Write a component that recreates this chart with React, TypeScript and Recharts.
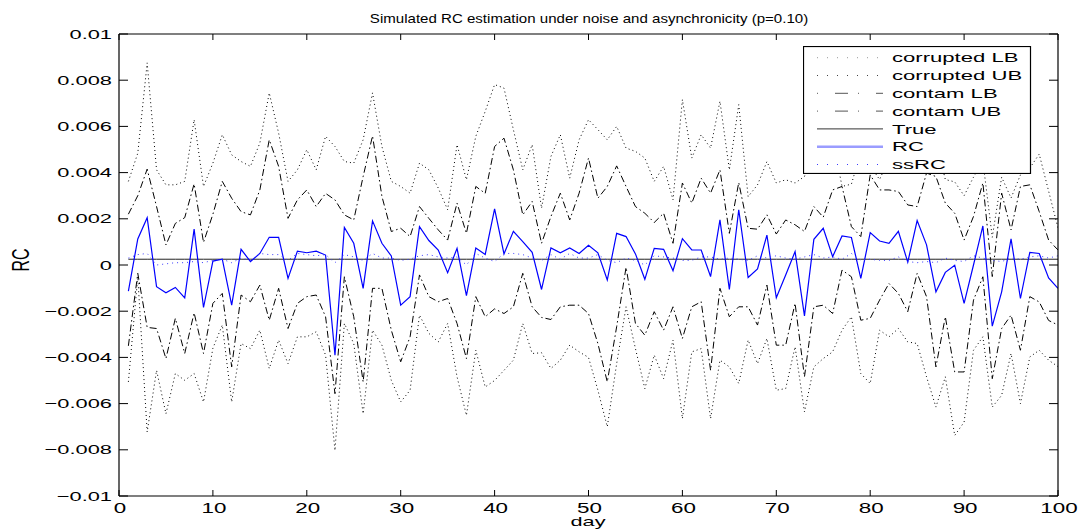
import React from 'react';
import { LineChart, Line, XAxis, YAxis, Legend } from 'recharts';

// x categories (days)
const DAYS = Array.from({ length: 100 }, (_, i) => i + 1);

// all series values below are read in units of 0.001
const RC = [
  -1.13, 1.13, 2.05, -0.94, -1.2, -0.97, -1.42, 1.55, -1.84, 0.17,
  0.25, -1.74, 0.68, 0.15, 0.5, 1.2, 1.2, -0.58, 0.6, 0.53,
  0.6, 0.43, -3.9, 1.63, 0.94, -1.01, 1.91, 0.94, 0.39, -1.74,
  -1.37, 1.66, 1.06, 0.65, -0.33, 0.72, -1.33, 0.74, 0.46, 2.43,
  0.48, 1.46, 1.01, 0.55, -1.06, 0.74, 0.53, 0.74, 0.5, 0.85,
  0.53, -0.65, 1.37, 1.23, 0.48, -0.62, 0.72, 0.68, -0.25, 1.14,
  0.65, 0.65, -0.5, 1.95, -1.06, 2.39, -0.54, -0.17, 1.29, -1.42,
  -0.43, 0.58, -2.2, 1.11, 1.59, 0.36, 1.26, 1.19, -0.58, 1.4,
  1.04, 0.94, 1.46, 0.12, 1.92, 0.87, -1.16, -0.32, -0.01, -1.66,
  0.0, 1.69, -2.65, -1.16, 1.13, -1.45, 0.55, 0.5, -0.56, -1.01,
];

const SS_RC = [
  0.3, 0.45, 0.5, 0.0, 0.05, 0.1, 0.1, 0.15, 0.1, 0.2,
  0.25, 0.1, 0.3, 0.2, 0.5, 0.45, 0.45, 0.2, 0.5, 0.45,
  0.4, 0.45, 0.1, 0.45, 0.35, 0.2, 0.5, 0.3, 0.3, 0.2,
  0.25, 0.4, 0.45, 0.35, 0.3, 0.35, 0.0, 0.5, 0.3, 0.15,
  0.5, 0.5, 0.45, 0.3, 0.2, 0.45, 0.25, 0.5, 0.3, 0.3,
  0.45, 0.2, 0.1, 0.3, 0.2, 0.0, 0.4, 0.35, 0.3, 0.2,
  0.2, 0.35, 0.35, 0.25, 0.3, 0.25, 0.2, 0.4, 0.3, 0.4,
  0.3, 0.25, 0.35, 0.45, 0.3, 0.35, 0.25, 0.5, 0.2, 0.25,
  0.2, 0.2, 0.35, 0.15, 0.1, 0.15, 0.1, 0.3, 0.2, 0.15,
  0.4, 0.3, 0.2, 0.15, 0.3, 0.25, 0.35, 0.4, 0.3, 0.4,
];

const CONTAM_UB = [
  2.2, 3.0, 4.15, 2.53, 0.87, 1.8, 2.05, 3.51, 0.98, 2.2,
  3.62, 2.89, 2.31, 2.17, 3.25, 5.42, 4.27, 2.02, 2.82, 3.25,
  2.53, 3.1, 2.82, 2.17, 1.95, 3.83, 5.59, 2.97, 1.45, 1.59,
  1.23, 2.53, 2.02, 1.52, 1.08, 2.68, 1.37, 3.4, 3.1, 5.13,
  5.49, 4.12, 2.17, 2.75, 0.94, 2.1, 3.11, 1.95, 3.11, 4.63,
  2.89, 3.4, 4.29, 3.4, 2.53, 2.24, 1.84, 2.24, 0.94, 3.55,
  2.68, 3.76, 3.11, 4.12, 1.37, 3.57, 1.59, 1.55, 2.17, 1.34,
  1.95, 1.74, 1.45, 2.53, 2.07, 3.25, 3.4, 1.66, 1.23, 3.9,
  3.25, 3.25, 3.18, 2.6, 2.53, 3.98, 3.83, 2.68, 2.24, 1.08,
  2.1, 3.55, -0.5, 3.11, 1.52, 3.4, 3.47, 2.31, 1.08, 0.65,
];

const CONTAM_LB = [
  -3.5, -0.36, -2.7, -2.75, -4.05, -2.31, -3.83, -2.07, -3.83, -1.66,
  -1.23, -4.41, -1.3, -1.59, -0.87, -2.39, -1.01, -2.75, -1.66, -1.37,
  -1.3, -2.24, -5.57, -0.51, -2.24, -5.06, -1.01, -1.01, -2.82, -4.19,
  -3.11, -0.43, -1.37, -1.59, -1.45, -2.53, -4.05, -1.37, -2.24, -1.9,
  -2.1, -1.81, -0.36, -1.81, -2.27, -2.36, -1.81, -1.74, -1.74, -2.1,
  -3.4, -5.06, -2.67, -0.1, -2.53, -3.04, -2.02, -2.82, -1.81, -3.18,
  -1.81, -1.59, -4.56, -1.01, -2.24, -1.81, -1.81, -2.6, -0.87, -3.47,
  -3.47, -1.66, -4.84, -1.81, -1.74, -2.1, -0.22, -0.51, -2.39, -2.31,
  -1.52, -0.8, -1.23, -2.02, -0.36, -1.37, -4.41, -2.24, -4.63, -4.63,
  -1.52, -0.51, -4.92, -2.75, -2.17, -3.69, -1.37, -1.6, -2.4, -2.6,
];

const CORRUPTED_UB = [
  3.62, 4.84, 8.75, 4.12, 3.47, 3.47, 3.62, 6.29, 3.4, 4.41,
  5.64, 4.77, 4.48, 4.27, 5.28, 7.45, 5.71, 3.62, 4.12, 4.99,
  4.12, 5.57, 5.13, 4.48, 4.41, 5.42, 7.45, 5.13, 3.62, 3.4,
  3.11, 4.41, 4.12, 3.33, 2.39, 5.21, 3.69, 5.57, 6.65, 7.81,
  7.66, 5.86, 4.12, 5.21, 2.46, 4.7, 5.64, 3.76, 5.42, 6.29,
  5.86, 5.42, 6.0, 5.06, 4.92, 4.63, 3.62, 4.27, 2.82, 7.16,
  4.63, 5.64, 5.06, 7.09, 4.12, 6.94, 2.96, 3.47, 4.48, 3.55,
  3.69, 3.55, 3.83, 5.2, 4.6, 5.5, 3.4, 3.5, 4.9, 4.3,
  3.7, 4.6, 4.2, 4.8, 3.9, 5.6, 5.4, 3.7, 3.6, 3.0,
  3.8, 4.5, 1.2, 3.8, 2.9, 3.9, 4.2, 4.8, 3.2, 1.6,
];

const CORRUPTED_LB = [
  -5.06, -0.51, -7.23, -4.56, -6.44, -4.7, -4.99, -4.7, -5.93, -3.6,
  -2.6, -5.93, -3.4, -3.62, -2.82, -4.48, -3.25, -4.27, -3.11, -3.11,
  -2.89, -3.9, -8.03, -2.53, -3.4, -6.44, -2.82, -3.47, -4.99, -5.93,
  -5.42, -2.17, -2.96, -3.33, -2.53, -4.84, -6.51, -3.69, -5.28, -5.0,
  -4.56, -4.12, -2.53, -3.83, -3.8, -4.48, -4.12, -3.47, -3.76, -4.0,
  -5.42, -7.0, -4.27, -1.81, -3.62, -5.35, -3.9, -4.92, -3.25, -6.65,
  -3.76, -3.62, -6.65, -4.12, -4.41, -5.13, -3.25, -4.27, -3.18, -5.42,
  -5.35, -3.54, -6.36, -4.41, -4.05, -3.76, -2.82, -2.24, -4.7, -5.13,
  -2.82, -3.11, -2.75, -3.33, -3.4, -4.84, -6.15, -4.84, -7.38, -6.8,
  -3.69, -3.11, -6.15, -5.64, -3.83, -6.0, -3.98, -3.69, -4.12, -4.4,
];

const TRUE_RC = 0.25;
const UNIT = 0.001;

const X_TICKS = [0, 10, 20, 30, 40, 50, 60, 70, 80, 90, 100];
const Y_TICKS = [-0.01, -0.008, -0.006, -0.004, -0.002, 0, 0.002, 0.004, 0.006, 0.008, 0.01];

const TITLE = 'Simulated RC estimation under noise and asynchronicity (p=0.10)';

const data = DAYS.map((day, i) => ({
  day,
  corruptedLB: CORRUPTED_LB[i] * UNIT,
  corruptedUB: CORRUPTED_UB[i] * UNIT,
  contamLB: CONTAM_LB[i] * UNIT,
  contamUB: CONTAM_UB[i] * UNIT,
  trueRc: TRUE_RC * UNIT,
  rc: RC[i] * UNIT,
  ssRc: SS_RC[i] * UNIT,
}));

const SERIES = [
  { key: 'corruptedLB', name: 'corrupted LB', stroke: '#000', width: 1, dash: '1 3', legendStroke: '#999', legendWidth: 1, legendDash: '1 9' },
  { key: 'corruptedUB', name: 'corrupted UB', stroke: '#000', width: 1, dash: '1 3', legendStroke: '#444', legendWidth: 1, legendDash: '1 9' },
  { key: 'contamLB', name: 'contam LB', stroke: '#000', width: 1, dash: '7 3 1.5 3', legendStroke: '#777', legendWidth: 1.2, legendDash: '1 17 13 10' },
  { key: 'contamUB', name: 'contam UB', stroke: '#000', width: 1, dash: '7 3 1.5 3', legendStroke: '#777', legendWidth: 1.2, legendDash: '1 17 13 10' },
  { key: 'trueRc', name: 'True', stroke: '#222', width: 1, dash: undefined, legendStroke: '#333', legendWidth: 1, legendDash: undefined },
  { key: 'rc', name: 'RC', stroke: '#0000ff', width: 1.2, dash: undefined, legendStroke: '#9a9cff', legendWidth: 2.5, legendDash: undefined },
  { key: 'ssRc', name: 'ssRC', stroke: '#3a3aff', width: 1, dash: '1 4', legendStroke: '#3a3aff', legendWidth: 1, legendDash: '1 9' },
];

const FONT = '"Liberation Sans", Arial, Helvetica, sans-serif';

const fmtY = (v: number) => {
  if (v === 0) return '0';
  const s = String(Math.abs(Number(v.toFixed(3))));
  return v < 0 ? `\u2212${s}` : s;
};

const LeftTick = ({ x, y, payload }: any) => (
  <g>
    <line x1={x} x2={x + 9} y1={y} y2={y} stroke="#000" />
    <text
      transform={`translate(${x - 7},${y + 4.5}) scale(1.68,1)`}
      textAnchor="end"
      fontFamily={FONT}
      fontSize={13}
      fill="#000"
    >
      {fmtY(payload.value)}
    </text>
  </g>
);

const RightTick = ({ x, y }: any) => (
  <line x1={x} x2={x - 9} y1={y} y2={y} stroke="#000" />
);

const BottomTick = ({ x, y, payload }: any) => (
  <g>
    <line x1={x} x2={x} y1={y} y2={y - 6} stroke="#000" />
    <text
      transform={`translate(${x + 1},${y + 16.5}) scale(1.6,1)`}
      textAnchor="middle"
      fontFamily={FONT}
      fontSize={14}
      fill="#000"
    >
      {payload.value}
    </text>
  </g>
);

const TopTick = ({ x, y }: any) => (
  <line x1={x} x2={x} y1={y} y2={y + 6} stroke="#000" />
);

const TitleLabel = () => (
  <text transform="translate(589,23) scale(1.16,1)" textAnchor="middle" fontFamily={FONT} fontSize={13} fill="#000">
    {TITLE}
  </text>
);

const DayLabel = () => (
  <text transform="translate(588,526) scale(1.67,1)" textAnchor="middle" fontFamily={FONT} fontSize={13} fill="#000">
    day
  </text>
);

const RcLabel = () => (
  <text transform="translate(29,260) scale(1.5,1) rotate(-90)" textAnchor="middle" fontFamily={FONT} fontSize={16} fill="#000">
    RC
  </text>
);

const renderLegend = () => (
  <svg width={229} height={128} style={{ display: 'block' }}>
    <rect x={0.5} y={0.5} width={227} height={127} fill="#fff" stroke="#000" strokeWidth={1.2} />
    {SERIES.map((s, i) => {
      const cy = 11.7 + 17.8 * i;
      return (
        <g key={s.key}>
          <line
            x1={14}
            x2={80}
            y1={cy}
            y2={cy}
            stroke={s.legendStroke}
            strokeWidth={s.legendWidth}
            strokeDasharray={s.legendDash}
          />
          <text
            transform={`translate(89,${cy + 4.7}) scale(1.7,1)`}
            fontFamily={FONT}
            fontSize={13}
            fill="#000"
          >
            {s.name}
          </text>
        </g>
      );
    })}
  </svg>
);

export default function App() {
  return (
    <div style={{ position: 'absolute', left: 0, top: 0, background: '#fff' }}>
      <LineChart width={1078} height={531} data={data} margin={{ top: 0, right: 0, bottom: 0, left: 0 }}>
        <XAxis
          dataKey="day"
          type="number"
          domain={[0, 100]}
          ticks={X_TICKS}
          interval={0}
          height={35}
          tickSize={0}
          tickMargin={0}
          tickLine={false}
          axisLine={{ stroke: '#000', strokeWidth: 1.2 }}
          tick={(p: any) => <BottomTick {...p} />}
          label={<DayLabel />}
          allowDataOverflow
        />
        <XAxis
          xAxisId="top"
          orientation="top"
          dataKey="day"
          type="number"
          domain={[0, 100]}
          ticks={X_TICKS}
          interval={0}
          height={34}
          tickSize={0}
          tickMargin={0}
          tickLine={false}
          axisLine={{ stroke: '#000', strokeWidth: 1.2 }}
          tick={(p: any) => <TopTick {...p} />}
          label={<TitleLabel />}
          allowDataOverflow
        />
        <YAxis
          type="number"
          domain={[-0.01, 0.01]}
          ticks={Y_TICKS}
          interval={0}
          width={119}
          tickSize={0}
          tickMargin={0}
          tickLine={false}
          axisLine={{ stroke: '#000', strokeWidth: 1.2 }}
          tick={(p: any) => <LeftTick {...p} />}
          label={<RcLabel />}
          allowDataOverflow
        />
        <YAxis
          yAxisId="right"
          orientation="right"
          type="number"
          domain={[-0.01, 0.01]}
          ticks={Y_TICKS}
          interval={0}
          width={20}
          tickSize={0}
          tickMargin={0}
          tickLine={false}
          axisLine={{ stroke: '#000', strokeWidth: 1.2 }}
          tick={(p: any) => <RightTick {...p} />}
          allowDataOverflow
        />
        {SERIES.map((s) => (
          <Line
            key={s.key}
            type="linear"
            dataKey={s.key}
            name={s.name}
            stroke={s.stroke}
            strokeWidth={s.width}
            strokeDasharray={s.dash}
            dot={false}
            activeDot={false}
            isAnimationActive={false}
          />
        ))}
        <Legend
          layout="horizontal"
          verticalAlign="middle"
          align="center"
          content={renderLegend}
          wrapperStyle={{ left: 803, top: 46, width: 229, height: 128 }}
        />
      </LineChart>
    </div>
  );
}
